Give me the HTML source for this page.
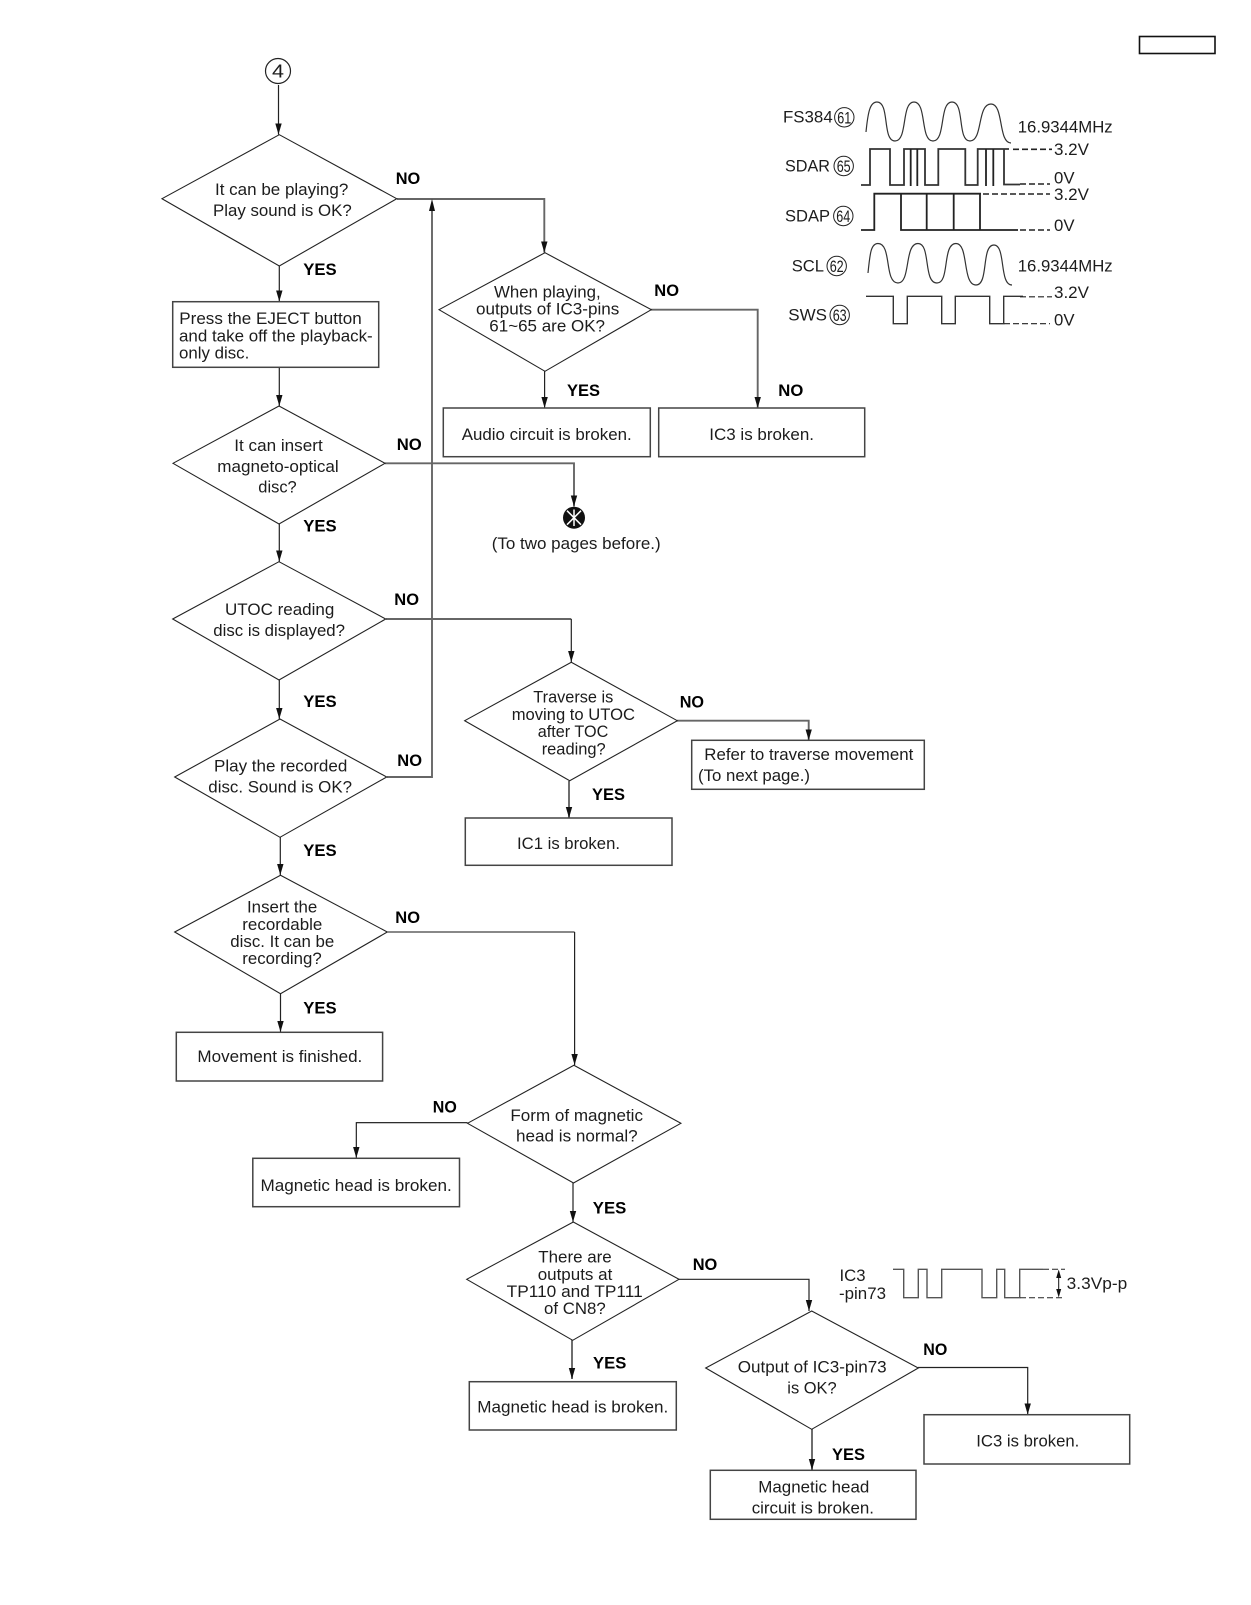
<!DOCTYPE html>
<html><head><meta charset="utf-8"><style>
html,body{margin:0;padding:0;background:#fff;width:1251px;height:1605px;overflow:hidden}
svg{display:block}
text{font-family:"Liberation Sans",sans-serif;font-size:17px;fill:#1c1c1c;stroke:none}
.b{font-weight:bold;fill:#000;transform:translateY(-0.8px)}
.c{font-size:17px;text-anchor:middle}
.k{fill:none;stroke:#111;stroke-width:1.1}
.g{fill:none;stroke:#666;stroke-width:1.9}
.a{fill:none;stroke:#222;stroke-width:1.2}
.ah{marker-end:url(#m)}
.box{fill:#fff;stroke:#444;stroke-width:1.5}
.d{fill:#fff;stroke:#222;stroke-width:1.1}
.dash{fill:none;stroke:#222;stroke-width:1.6;stroke-dasharray:6 3}
</style></head><body>
<svg width="1251" height="1605" viewBox="0 0 1251 1605" xmlns="http://www.w3.org/2000/svg">
<defs><marker id="m" markerUnits="userSpaceOnUse" markerWidth="12" markerHeight="8" refX="11" refY="3.5" orient="auto"><path d="M0,0.3 L11,3.5 L0,6.7 Z" fill="#111"/></marker></defs>
<rect width="1251" height="1605" fill="#fff"/>

<rect x="1139.5" y="36.5" width="75.5" height="17" fill="#fff" stroke="#111" stroke-width="1.6"/>

<!-- connectors -->
<path class="a ah" d="M278.5,85 V134.5"/>
<path class="a ah" d="M279.3,266 V301.5"/>
<path class="a ah" d="M279.3,367 V406"/>
<path class="a ah" d="M279.3,524 V561.5"/>
<path class="a ah" d="M279.3,680 V719"/>
<path class="a ah" d="M280.3,837 V875"/>
<path class="a ah" d="M280.5,994 V1032"/>
<path class="g ah" d="M397,199 H544.3 V252.5"/>
<path class="g" d="M387,777 H432 V205"/>
<path d="M432,199 L429,211 H435 Z" fill="#111"/>
<path class="g ah" d="M385,463.3 H574 V506.5"/>
<path class="a ah" d="M544.6,371 V408"/>
<path class="g ah" d="M651,309.7 H757.7 V408"/>
<path class="g" d="M386,619 H571.3"/>
<path class="a ah" d="M571.3,619 V662"/>
<path class="g ah" d="M569,781 V818"/>
<path class="g ah" d="M677,720.7 H808.7 V740.3"/>
<path class="k" d="M387,932 H574.6"/>
<path class="a ah" d="M574.6,932 V1065"/>
<path class="k ah" d="M467.5,1122.7 H356.3 V1158"/>
<path class="a ah" d="M573,1183 V1222"/>
<path class="g ah" d="M572,1340 V1379"/>
<path class="a ah" d="M679,1279.3 H809 V1311"/>
<path class="g ah" d="M812,1429 V1470"/>
<path class="a ah" d="M918,1367.5 H1027.7 V1414.5"/>

<!-- start -->
<circle cx="278" cy="71" r="12.5" fill="#fff" stroke="#222" stroke-width="1.2"/>
<text x="272" y="77.5" style="font-size:18px" textLength="12" lengthAdjust="spacingAndGlyphs">4</text>

<!-- diamonds -->
<polygon class="d" points="162,198.7 279.3,134.7 396.7,198.7 279.3,266"/>
<polygon class="d" points="173,463.3 279,406 385,463.3 279,524"/>
<polygon class="d" points="439,309.7 545,252.7 651.3,309.7 545,371.3"/>
<polygon class="d" points="172.7,619 279,561.7 385.7,619 279,680"/>
<polygon class="d" points="174.7,777 280,719 386.7,777 280,837.3"/>
<polygon class="d" points="174.7,932 280.5,875.3 387.3,932 280.5,993.7"/>
<polygon class="d" points="464.7,720.7 571.3,662.3 677.3,720.7 569.7,780.7"/>
<polygon class="d" points="467.5,1123.3 573.9,1065.3 680.9,1123.3 573.5,1183"/>
<polygon class="d" points="466.7,1279.3 573.3,1222 679,1279.3 572.7,1340.3"/>
<polygon class="d" points="705.7,1368 811.7,1311 918.3,1368 811.7,1429.3"/>

<!-- boxes -->
<rect class="box" x="172.7" y="301.7" width="206" height="65.6"/>
<rect class="box" x="443.3" y="408" width="207" height="48.7"/>
<rect class="box" x="658.7" y="408" width="206" height="48.7"/>
<rect class="box" x="465.3" y="818" width="206.7" height="47.3"/>
<rect class="box" x="691.7" y="740.3" width="232.6" height="49"/>
<rect class="box" x="176.3" y="1032.3" width="206.3" height="48.7"/>
<rect class="box" x="252.8" y="1158.3" width="206.7" height="48.4"/>
<rect class="box" x="469.3" y="1381.7" width="207" height="48.3"/>
<rect class="box" x="710.3" y="1470.3" width="205.7" height="49"/>
<rect class="box" x="924" y="1414.7" width="205.7" height="49.3"/>

<!-- off-page marker -->
<circle cx="574" cy="517.7" r="11" fill="#111"/>
<path d="M567,510.7 L581,524.7 M581,510.7 L567,524.7 M574,509.5 V526" stroke="#fff" stroke-width="1.5" fill="none"/>
<text x="491.7" y="549" textLength="169" lengthAdjust="spacingAndGlyphs">(To two pages before.)</text>

<!-- node text -->
<text x="215" y="195.2" textLength="133.3" lengthAdjust="spacingAndGlyphs">It can be playing?</text>
<text x="213" y="216.2" textLength="138.7" lengthAdjust="spacingAndGlyphs">Play sound is OK?</text>
<text x="179.3" y="324" textLength="182.4" lengthAdjust="spacingAndGlyphs">Press the EJECT button</text>
<text x="179" y="341.7" textLength="193.7" lengthAdjust="spacingAndGlyphs">and take off the playback-</text>
<text x="179" y="358.3" textLength="70.3" lengthAdjust="spacingAndGlyphs">only disc.</text>
<text x="494" y="297.3" textLength="106.7" lengthAdjust="spacingAndGlyphs">When playing,</text>
<text x="476" y="314.7" textLength="143.3" lengthAdjust="spacingAndGlyphs">outputs of IC3-pins</text>
<text x="489.3" y="331.7" textLength="115.7" lengthAdjust="spacingAndGlyphs">61~65 are OK?</text>
<text x="461.7" y="440" textLength="170" lengthAdjust="spacingAndGlyphs">Audio circuit is broken.</text>
<text x="709.3" y="440" textLength="104.7" lengthAdjust="spacingAndGlyphs">IC3 is broken.</text>
<text x="234.3" y="451" textLength="88.4" lengthAdjust="spacingAndGlyphs">It can insert</text>
<text x="217.3" y="472" textLength="121.4" lengthAdjust="spacingAndGlyphs">magneto-optical</text>
<text x="258.3" y="492.7" textLength="38.4" lengthAdjust="spacingAndGlyphs">disc?</text>
<text x="225" y="615" textLength="109.3" lengthAdjust="spacingAndGlyphs">UTOC reading</text>
<text x="213.3" y="636" textLength="131.7" lengthAdjust="spacingAndGlyphs">disc is displayed?</text>
<text x="214" y="771.3" textLength="133.3" lengthAdjust="spacingAndGlyphs">Play the recorded</text>
<text x="208.3" y="792.5" textLength="143.7" lengthAdjust="spacingAndGlyphs">disc. Sound is OK?</text>
<text x="247" y="912.5" textLength="70.3" lengthAdjust="spacingAndGlyphs">Insert the</text>
<text x="242.3" y="930" textLength="80" lengthAdjust="spacingAndGlyphs">recordable</text>
<text x="230.3" y="947" textLength="104" lengthAdjust="spacingAndGlyphs">disc. It can be</text>
<text x="242.3" y="964" textLength="79.4" lengthAdjust="spacingAndGlyphs">recording?</text>
<text x="533.3" y="702.5" textLength="80" lengthAdjust="spacingAndGlyphs">Traverse is</text>
<text x="511.7" y="720" textLength="123.3" lengthAdjust="spacingAndGlyphs">moving to UTOC</text>
<text x="537.7" y="737" textLength="70.6" lengthAdjust="spacingAndGlyphs">after TOC</text>
<text x="541.7" y="754.5" textLength="64" lengthAdjust="spacingAndGlyphs">reading?</text>
<text x="704.3" y="760" textLength="209" lengthAdjust="spacingAndGlyphs">Refer to traverse movement</text>
<text x="698" y="781" textLength="112" lengthAdjust="spacingAndGlyphs">(To next page.)</text>
<text x="517" y="849" textLength="103" lengthAdjust="spacingAndGlyphs">IC1 is broken.</text>
<text x="197.4" y="1062" textLength="164.9" lengthAdjust="spacingAndGlyphs">Movement is finished.</text>
<text x="510.4" y="1121" textLength="132.6" lengthAdjust="spacingAndGlyphs">Form of magnetic</text>
<text x="516" y="1141.7" textLength="121.7" lengthAdjust="spacingAndGlyphs">head is normal?</text>
<text x="260.5" y="1191" textLength="191.3" lengthAdjust="spacingAndGlyphs">Magnetic head is broken.</text>
<text x="538.3" y="1262.3" textLength="73.4" lengthAdjust="spacingAndGlyphs">There are</text>
<text x="537.7" y="1280" textLength="74.6" lengthAdjust="spacingAndGlyphs">outputs at</text>
<text x="506.7" y="1297" textLength="136" lengthAdjust="spacingAndGlyphs">TP110 and TP111</text>
<text x="544" y="1314" textLength="61.7" lengthAdjust="spacingAndGlyphs">of CN8?</text>
<text x="477.3" y="1412.7" textLength="191" lengthAdjust="spacingAndGlyphs">Magnetic head is broken.</text>
<text x="737.7" y="1372.7" textLength="149" lengthAdjust="spacingAndGlyphs">Output of IC3-pin73</text>
<text x="787.3" y="1393.3" textLength="49.4" lengthAdjust="spacingAndGlyphs">is OK?</text>
<text x="758.3" y="1492.3" textLength="111" lengthAdjust="spacingAndGlyphs">Magnetic head</text>
<text x="751.7" y="1513.3" textLength="122.3" lengthAdjust="spacingAndGlyphs">circuit is broken.</text>
<text x="976.3" y="1446.5" textLength="103" lengthAdjust="spacingAndGlyphs">IC3 is broken.</text>

<!-- YES / NO -->
<text class="b" x="395.7" y="185" textLength="24.5" lengthAdjust="spacingAndGlyphs">NO</text>
<text class="b" x="303.3" y="275.7" textLength="33.4" lengthAdjust="spacingAndGlyphs">YES</text>
<text class="b" x="396.7" y="450.7" textLength="25" lengthAdjust="spacingAndGlyphs">NO</text>
<text class="b" x="303.3" y="532.3" textLength="33.4" lengthAdjust="spacingAndGlyphs">YES</text>
<text class="b" x="654.3" y="296.7" textLength="24.7" lengthAdjust="spacingAndGlyphs">NO</text>
<text class="b" x="567" y="396.7" textLength="33" lengthAdjust="spacingAndGlyphs">YES</text>
<text class="b" x="778.3" y="396.7" textLength="25" lengthAdjust="spacingAndGlyphs">NO</text>
<text class="b" x="394.3" y="605.7" textLength="24.7" lengthAdjust="spacingAndGlyphs">NO</text>
<text class="b" x="303.3" y="708" textLength="33.4" lengthAdjust="spacingAndGlyphs">YES</text>
<text class="b" x="397.3" y="766.7" textLength="24.7" lengthAdjust="spacingAndGlyphs">NO</text>
<text class="b" x="303.3" y="856.7" textLength="33.4" lengthAdjust="spacingAndGlyphs">YES</text>
<text class="b" x="395.3" y="924" textLength="24.7" lengthAdjust="spacingAndGlyphs">NO</text>
<text class="b" x="303.3" y="1014.3" textLength="33.4" lengthAdjust="spacingAndGlyphs">YES</text>
<text class="b" x="679.7" y="708.3" textLength="24.3" lengthAdjust="spacingAndGlyphs">NO</text>
<text class="b" x="592" y="800.7" textLength="33" lengthAdjust="spacingAndGlyphs">YES</text>
<text class="b" x="432.8" y="1113.3" textLength="24" lengthAdjust="spacingAndGlyphs">NO</text>
<text class="b" x="592.8" y="1214.3" textLength="33.5" lengthAdjust="spacingAndGlyphs">YES</text>
<text class="b" x="692.7" y="1270.7" textLength="24.6" lengthAdjust="spacingAndGlyphs">NO</text>
<text class="b" x="593" y="1369.3" textLength="33.3" lengthAdjust="spacingAndGlyphs">YES</text>
<text class="b" x="923.3" y="1356" textLength="24" lengthAdjust="spacingAndGlyphs">NO</text>
<text class="b" x="832" y="1461" textLength="33" lengthAdjust="spacingAndGlyphs">YES</text>

<!-- waveform labels -->
<text x="783" y="122.7" textLength="49.7" lengthAdjust="spacingAndGlyphs">FS384</text>
<circle cx="844.3" cy="117.3" r="9.7" fill="none" stroke="#222" stroke-width="1"/><text class="c" x="844.3" y="123.3" textLength="14" lengthAdjust="spacingAndGlyphs">61</text>
<text x="785" y="171.7" textLength="45" lengthAdjust="spacingAndGlyphs">SDAR</text>
<circle cx="843.7" cy="166" r="9.7" fill="none" stroke="#222" stroke-width="1"/><text class="c" x="843.7" y="172" textLength="14" lengthAdjust="spacingAndGlyphs">65</text>
<text x="785" y="221.7" textLength="45" lengthAdjust="spacingAndGlyphs">SDAP</text>
<circle cx="843.3" cy="216" r="9.7" fill="none" stroke="#222" stroke-width="1"/><text class="c" x="843.3" y="222" textLength="14" lengthAdjust="spacingAndGlyphs">64</text>
<text x="791.7" y="271.7" textLength="32.3" lengthAdjust="spacingAndGlyphs">SCL</text>
<circle cx="836.7" cy="266" r="9.7" fill="none" stroke="#222" stroke-width="1"/><text class="c" x="836.7" y="272" textLength="14" lengthAdjust="spacingAndGlyphs">62</text>
<text x="788.3" y="320.7" textLength="38.7" lengthAdjust="spacingAndGlyphs">SWS</text>
<circle cx="839.7" cy="315" r="9.7" fill="none" stroke="#222" stroke-width="1"/><text class="c" x="839.7" y="321" textLength="14" lengthAdjust="spacingAndGlyphs">63</text>

<text x="1017.7" y="132.7" textLength="95" lengthAdjust="spacingAndGlyphs">16.9344MHz</text>
<text x="1017.7" y="271.7" textLength="95" lengthAdjust="spacingAndGlyphs">16.9344MHz</text>
<text x="1054" y="155" textLength="35" lengthAdjust="spacingAndGlyphs">3.2V</text>
<text x="1054" y="183.7" textLength="20.5" lengthAdjust="spacingAndGlyphs">0V</text>
<text x="1054" y="200" textLength="35" lengthAdjust="spacingAndGlyphs">3.2V</text>
<text x="1054" y="231" textLength="20.5" lengthAdjust="spacingAndGlyphs">0V</text>
<text x="1054" y="298" textLength="35" lengthAdjust="spacingAndGlyphs">3.2V</text>
<text x="1054" y="325.7" textLength="20.5" lengthAdjust="spacingAndGlyphs">0V</text>

<!-- waveforms -->
<path fill="none" stroke="#333" stroke-width="1.2" d="M866,132 C868,112 870,102 877,102 C890,102 882,141 895,141 C908,141 901,102 914,102 C927,102 920,141 933,141 C946,141 939,102 952,102 C965,102 957,141 970,141 C983,141 977,104 991,104 C1004,104 998,143 1011,143"/>
<path fill="none" stroke="#333" stroke-width="1.2" d="M868,273 C870,253 871,243.5 878,243.5 C892,243.5 884,283 898,283 C911,283 904,243.5 918,243.5 C931,243.5 923,283 937,283 C950,283 942,243.5 956,243.5 C969,243.5 962,285 976,285 C989,285 981,245 994,245 C1006,245 999,285 1012,285"/>
<!-- SDAR -->
<path fill="none" stroke="#333" stroke-width="1.8" d="M861,185 H870 V149 H890 V185 H904 V149 H925 V185 H938.3 V149 H965.3 V185 H977.7 V149 H1009 M1004,149 V184.5 H1020"/>
<path fill="none" stroke="#222" stroke-width="1.8" d="M910.7,149 V186 M917.3,149 V186 M986,149 V186 M993.3,149 V186"/>
<path class="dash" d="M1013,149.3 H1052 M1020,184 H1050"/>
<!-- SDAP -->
<path fill="none" stroke="#222" stroke-width="1.8" d="M861,230 H874.3 V193.7 H981 M901,193.7 V230 H1018 M926.7,193.7 V230 M953.7,193.7 V230 M980,193.7 V230"/>
<path class="dash" d="M983,194 H1050 M1020,230 H1050"/>
<!-- SWS -->
<path fill="none" stroke="#333" stroke-width="1.4" d="M866,296.3 H893.3 V323.7 H907.3 V296.3 H941.7 V323.7 H955.3 V296.3 H989.7 V323.7 H1003.7 V296.3 H1023"/>
<path class="dash" style="stroke-width:1.2" d="M1020,296.8 H1052 M1004,323.7 H1050"/>

<!-- IC3 pin73 -->
<text x="839.5" y="1281" textLength="26" lengthAdjust="spacingAndGlyphs">IC3</text>
<text x="839" y="1299" textLength="47" lengthAdjust="spacingAndGlyphs">-pin73</text>
<path fill="none" stroke="#555" stroke-width="1.4" d="M893,1269.3 H903.7 V1297.7 H918.3 V1269.3 H927 V1297.7 H941.7 V1269.3 H982 V1297.7 H996.7 V1269.3 H1004.7 V1297.7 H1019.7 V1269.3 H1043"/>
<path class="dash" style="stroke-width:1" d="M1043,1269.3 H1065 M1020,1297.7 H1065"/>
<path d="M1058.7,1272 V1295" stroke="#111" stroke-width="1"/>
<path d="M1058.7,1269.5 L1056.2,1278 H1061.2 Z M1058.7,1297.5 L1056.2,1289 H1061.2 Z" fill="#111"/>
<text x="1066.7" y="1289" textLength="60.5" lengthAdjust="spacingAndGlyphs">3.3Vp-p</text>
</svg>
</body></html>
